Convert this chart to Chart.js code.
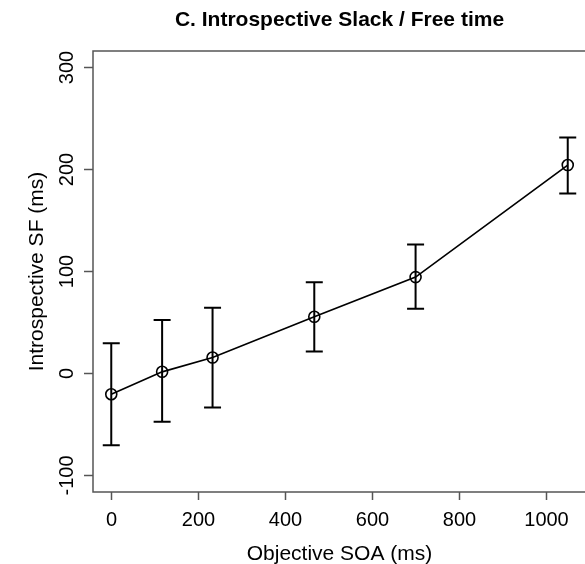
<!DOCTYPE html>
<html>
<head>
<meta charset="utf-8">
<title>C. Introspective Slack / Free time</title>
<script src="https://cdn.jsdelivr.net/npm/chart.js@4.4.1/dist/chart.umd.min.js"></script>
<style>
    html, body { margin: 0; padding: 0; background: #fff; overflow: hidden; }
    #wrap { width: 600px; height: 564px; }
</style>
</head>
<body>
<div id="wrap"><canvas id="sfChart" width="600" height="564"></canvas></div>
<script>
// Values
const soaValues = [0, 117, 233, 467, 700, 1050];   // objective SOA (ms)
const sfMeans   = [-21, 1, 15, 55, 94, 204];        // introspective SF (ms)
const sfLower   = [-71, -48, -34, 21, 63, 176];     // error bar bottom
const sfUpper   = [29, 52, 64, 89, 126, 231];       // error bar top
const xTicks = [0, 200, 400, 600, 800, 1000];
const yTicks = [-100, 0, 100, 200, 300];

const chartTitle = 'C. Introspective Slack / Free time';
const xTitle = 'Objective SOA (ms)';
const yTitle = 'Introspective SF (ms)';

const FONT = '"Liberation Sans", Arial, Helvetica, sans-serif';

// Error bars drawn with the chart's own scales
const errorBars = {
    id: 'errorBars',
    afterDatasetsDraw(chart) {
        const { ctx, scales: { x, y } } = chart;
        ctx.save();
        ctx.strokeStyle = '#000';
        ctx.lineWidth = 2;
        soaValues.forEach((v, i) => {
            const px = x.getPixelForValue(v);
            const top = y.getPixelForValue(sfUpper[i]);
            const bot = y.getPixelForValue(sfLower[i]);
            ctx.beginPath();
            ctx.moveTo(px, top); ctx.lineTo(px, bot);
            ctx.moveTo(px - 8.5, top); ctx.lineTo(px + 8.5, top);
            ctx.moveTo(px - 8.5, bot); ctx.lineTo(px + 8.5, bot);
            ctx.stroke();
        });
        ctx.restore();
    }
};

// R-style frame: box, outside ticks, rotated y labels, titles
const rFrame = {
    id: 'rFrame',
    afterDraw(chart) {
        const { ctx, chartArea: a, scales: { x, y } } = chart;
        ctx.save();
        ctx.strokeStyle = '#555';
        ctx.lineWidth = 1.5;
        ctx.strokeRect(a.left, a.top, a.right - a.left, a.bottom - a.top);

        ctx.fillStyle = '#000';
        ctx.font = '20px ' + FONT;
        ctx.textAlign = 'center';
        ctx.textBaseline = 'alphabetic';

        xTicks.forEach(v => {
            const px = Math.round(x.getPixelForValue(v)) + 0.5;
            ctx.beginPath();
            ctx.moveTo(px, a.bottom); ctx.lineTo(px, a.bottom + 8);
            ctx.stroke();
            ctx.fillText(String(v), px, a.bottom + 34);
        });

        yTicks.forEach(v => {
            const py = Math.round(y.getPixelForValue(v)) + 0.5;
            ctx.beginPath();
            ctx.moveTo(a.left - 9, py); ctx.lineTo(a.left, py);
            ctx.stroke();
            ctx.save();
            ctx.translate(73, py);
            ctx.rotate(-Math.PI / 2);
            ctx.fillText(String(v), 0, 0);
            ctx.restore();
        });

        const midX = (a.left + a.right) / 2;
        const midY = (a.top + a.bottom) / 2;

        ctx.font = '21px ' + FONT;
        ctx.fillText(xTitle, midX, 560);
        ctx.save();
        ctx.translate(43, midY);
        ctx.rotate(-Math.PI / 2);
        ctx.fillText(yTitle, 0, 0);
        ctx.restore();

        ctx.font = 'bold 21px ' + FONT;
        ctx.fillText(chartTitle, midX, 26);
        ctx.restore();
    }
};

const ctx = document.getElementById('sfChart');
const sfChart = new Chart(ctx, {
    type: 'scatter',
    data: {
        datasets: [{
            label: 'Introspective SF',
            data: soaValues.map((v, i) => ({ x: v, y: sfMeans[i] })),
            showLine: true,
            borderColor: '#000',
            borderWidth: 1.7,
            tension: 0,
            pointRadius: 5.5,
            pointBorderWidth: 1.6,
            pointBorderColor: '#000',
            pointBackgroundColor: 'rgba(0,0,0,0)'
        }]
    },
    options: {
        responsive: false,
        animation: false,
        layout: {
            padding: { left: 93, right: 14, top: 51, bottom: 72 }
        },
        scales: {
            x: { type: 'linear', min: -42, max: 1092, display: false },
            y: { type: 'linear', min: -117, max: 316, display: false }
        },
        plugins: {
            legend: { display: false },
            tooltip: { enabled: false },
            title: { display: false }
        }
    },
    plugins: [errorBars, rFrame]
});
</script>
</body>
</html>
